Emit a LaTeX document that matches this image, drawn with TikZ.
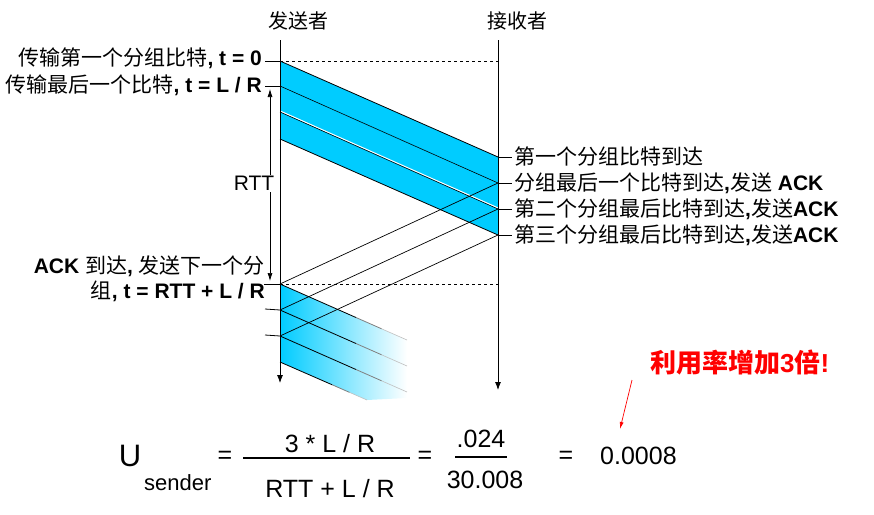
\documentclass[tikz,border=0pt]{standalone}
\usepackage{fontspec}
\setmainfont{Liberation Sans}
\newfontfamily\cjk{Noto Sans CJK SC}
\usetikzlibrary{arrows.meta,calc}
\definecolor{pkt}{RGB}{0,204,255}
\newcommand\zhtxt[1]{{\cjk #1}}
\begin{document}
\begin{tikzpicture}[x=1pt,y=-1pt,
  ln/.style={line width=0.8pt},
  tipend/.style={-{Latex[length=8pt,width=6pt]}},
  lab/.style={inner sep=0pt, font=\fontsize{21}{24}\selectfont},
  hdr/.style={inner sep=0pt, font=\fontsize{20}{24}\selectfont\cjk},
  fml/.style={inner sep=0pt, font=\fontsize{25}{28}\selectfont},
]
\useasboundingbox (0,0) rectangle (874,514);

% key points
\coordinate (stop) at (280,40);  \coordinate (sbot) at (280,383);
\coordinate (rtop) at (498,40);  \coordinate (rbot) at (498,390);
\coordinate (a0) at (280,61);  \coordinate (a1) at (280,86);
\coordinate (a2) at (280,112); \coordinate (a3) at (280,139);
\coordinate (b0) at (498,157); \coordinate (b1) at (498,183);
\coordinate (b2) at (498,209); \coordinate (b3) at (498,235);
\coordinate (c1) at (280,284); \coordinate (c2) at (280,310);
\coordinate (c3) at (280,336); \coordinate (c4) at (280,362);
\coordinate (d0) at (407,340); \coordinate (d1) at (407,366);
\coordinate (d2) at (407,392); \coordinate (d3) at (367,400);
\coordinate (dcorner) at (407,398);
\coordinate (dr0) at (498,61); \coordinate (dr1) at (498,284);

% packet bands
\fill[pkt] (a0) -- (b0) -- (b3) -- (a3) -- cycle;
\shade[left color=pkt, right color=white] (c1) -- (d0) -- (dcorner) -- (d3) -- (c4) -- cycle;

\draw[ln] (a0) -- (b0);
\draw[line width=0.6pt] (a1) -- (b1);
\draw[white, line width=1.2pt] ([yshift=1pt]a2) -- ([yshift=1pt]b2);
\draw[line width=0.6pt] (a2) -- (b2);
\draw[ln] (a3) -- (b3);

\foreach \p/\q in {c1/d0, c2/d1, c3/d2, c4/d3} {
  \draw[ln] (\p) -- ($(\p)!0.6!(\q)$);
  \draw[ln, gray] ($(\p)!0.6!(\q)$) -- ($(\p)!0.8!(\q)$);
  \draw[line width=0.6pt, gray!50] ($(\p)!0.8!(\q)$) -- (\q);
}

% time lines
\draw[ln, tipend] (stop) -- (sbot);
\draw[ln, tipend] (rtop) -- (rbot);

% dashed
\draw[line width=0.6pt, dash pattern=on 3pt off 3pt] (a0) -- (dr0);
\draw[line width=0.6pt, dash pattern=on 3pt off 3pt] (c1) -- (dr1);

% ACKs
\draw[line width=0.7pt] (b1) -- (c1);
\draw[line width=0.7pt] (b2) -- (c2);
\draw[line width=0.7pt] (b3) -- (c3);

% left ticks
\coordinate (t0) at (265,61);  \coordinate (t1) at (265,86);
\coordinate (t2) at (264,284); \coordinate (t3) at (265,309);
\coordinate (t4) at (265,335);
\draw[ln] (t0) -- (a0); \draw[ln] (t1) -- (a1); \draw[ln] (t2) -- (c1);
\draw[ln] (t3) -- (c2); \draw[ln] (t4) -- (c3);

% right ticks
\foreach \b/\yy in {b0/157, b1/183, b2/209, b3/235} {
  \coordinate (e\b) at (512,\yy);
  \draw[ln] (\b) -- (e\b);
}

% RTT
\coordinate (rt1) at (270,89); \coordinate (rt2) at (270,281);
\draw[line width=0.7pt, {Latex[length=8pt,width=5pt]}-{Latex[length=8pt,width=5pt]}] (rt1) -- (rt2);
\node[fill=white, inner sep=1pt, font=\fontsize{21}{24}\selectfont, anchor=base] (rtt) at (254,190.5) {RTT};

% headers
\node[hdr, anchor=base] (snd) at (298,28.5) {发送者};
\node[hdr, anchor=base] (rcv) at (517,28.5) {接收者};

% left labels
\node[lab, anchor=base east] (l1) at (262,65) {\zhtxt{传输第一个分组比特}\textbf{, t = 0}};
\node[lab, anchor=base east] (l2) at (262,92) {\zhtxt{传输最后一个比特}\textbf{, t = L / R}};
\node[lab, anchor=base east] (l3) at (265,273) {\textbf{ACK }\zhtxt{到达}\textbf{, }\zhtxt{发送下一个分}};
\node[lab, anchor=base east] (l4) at (265,298) {\zhtxt{组}\textbf{, t = RTT + L / R}};

% right labels
\node[lab, anchor=base west] (r1) at (514,164.5) {\zhtxt{第一个分组比特到达}};
\node[lab, anchor=base west] (r2) at (514,190.5) {\zhtxt{分组最后一个比特到达}\textbf{,}\zhtxt{发送}\textbf{ ACK}};
\node[lab, anchor=base west] (r3) at (514,216.5) {\zhtxt{第二个分组最后比特到达}\textbf{,}\zhtxt{发送}\textbf{ACK}};
\node[lab, anchor=base west] (r4) at (514,242.5) {\zhtxt{第三个分组最后比特到达}\textbf{,}\zhtxt{发送}\textbf{ACK}};

% red remark
\node[inner sep=0pt, anchor=base west, text=red, font=\fontsize{26}{30}\selectfont\bfseries] (rem) at (650,372) {\zhtxt{利用率增加}3\zhtxt{倍}!};
\coordinate (ra1) at (632,380); \coordinate (ra2) at (620,429);
\draw[red, line width=0.7pt, -{Latex[length=7pt,width=4pt]}] (ra1) -- (ra2);

% formula
\node[inner sep=0pt, anchor=base, font=\fontsize{31}{34}\selectfont] (U) at (130,466) {U};
\node[inner sep=0pt, anchor=base west, font=\fontsize{22}{26}\selectfont] (sub) at (144,490) {sender};
\node[fml, anchor=center] (eq1) at (225,457) {=};
\node[fml, anchor=base] (num) at (330,452) {3 * L / R};
\coordinate (f1) at (243,458); \coordinate (f2) at (410,458);
\draw[line width=2pt] (f1) -- (f2);
\node[fml, anchor=base] (den) at (330,497) {RTT + L / R};
\node[fml, anchor=center] (eq2) at (425,457) {=};
\node[fml, anchor=base] (n2) at (481,447) {.024};
\coordinate (g1) at (455,457); \coordinate (g2) at (507,457);
\draw[line width=2pt] (g1) -- (g2);
\node[fml, anchor=base] (d2n) at (485,488) {30.008};
\node[fml, anchor=center] (eq3) at (566,457) {=};
\node[fml, anchor=base west] (res) at (600,464) {0.0008};
\end{tikzpicture}
\end{document}
